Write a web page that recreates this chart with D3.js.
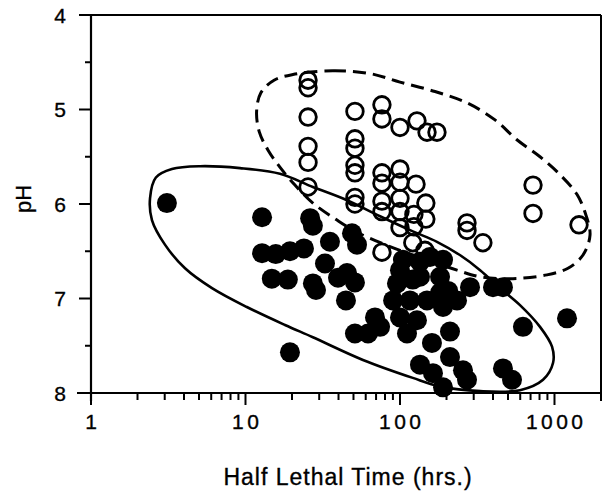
<!DOCTYPE html>
<html>
<head>
<meta charset="utf-8">
<script src="https://cdn.jsdelivr.net/npm/d3@7/dist/d3.min.js"></script>
<style>
  html, body { margin: 0; padding: 0; background: #fff; }
  svg { display: block; }
  text { font-family: "Liberation Sans", Arial, sans-serif; fill: #000; stroke: #000; stroke-width: 0.35; }
</style>
</head>
<body>
<div id="chart"></div>
<script>
// ---- Data ----
// Filled circles: half lethal time (hrs) and pH
const filledHours = [3.1, 12.8, 12.8, 15.7, 19.4, 23.9, 14.8, 18.8, 26.2, 27.3,
  27.3, 28.6, 19.4, 35.2, 32.7, 48.9, 52.7, 39.7, 51.1, 45.4,
  44.7, 51.1, 62.1, 68.9, 74.3, 104.5, 156.3, 189.9, 95.6, 90.2,
  134.7, 181.6, 149.6, 100, 111, 128.8, 189.9, 233.9, 283.9, 400,
  464, 161, 210.7, 210.7, 134.7, 163.5, 189.9, 255.7, 271.5, 464,
  531, 625, 1205, 181.6, 116, 121, 100, 134.7, 205];
const filledPH = [5.99, 6.14, 6.52, 6.53, 6.50, 6.47, 6.79, 6.80, 6.15, 6.23,
  6.84, 6.91, 7.57, 6.40, 6.63, 6.31, 6.43, 6.78, 6.83, 6.73,
  7.02, 7.37, 7.37, 7.20, 7.30, 6.59, 6.56, 6.59, 6.84, 7.02,
  6.77, 6.77, 7.02, 7.20, 7.37, 7.23, 7.09, 7.02, 6.88, 6.88,
  6.88, 7.47, 7.35, 7.62, 7.70, 7.79, 7.94, 7.76, 7.86, 7.74,
  7.86, 7.30, 7.21, 6.94, 7.02, 6.80, 6.70, 6.61, 6.92];

// Open circles: half lethal time (hrs) and pH
const openHours = [25.4, 25.4, 25.4, 25.4, 25.4, 25.4, 51.1, 51.1, 51.1, 51.1,
  51.1, 51.1, 51.1, 76.4, 76.4, 100, 128.8, 149.6, 173.5, 76.4,
  76.4, 76.4, 76.4, 100, 100, 100, 100, 100, 127, 147,
  147, 123, 123, 271.5, 271.5, 344, 726, 726, 1441, 76.4,
  121, 145];
const openPH = [4.69, 4.77, 5.08, 5.39, 5.56, 5.82, 5.02, 5.31, 5.41, 5.59,
  5.67, 5.93, 6.00, 4.95, 5.10, 5.19, 5.12, 5.24, 5.24, 5.67,
  5.78, 5.97, 6.08, 5.63, 5.77, 5.94, 6.08, 6.25, 5.79, 5.99,
  6.16, 6.11, 6.24, 6.20, 6.28, 6.41, 5.80, 6.10, 6.22, 6.51,
  6.41, 6.49];

// Hand-drawn envelope around the filled group (solid)
const solidHours = [2.41, 2.63, 3.34, 5.08, 9.21, 16.7, 27.3, 45.4, 74.3, 121,
  173.5, 244, 330, 444, 598, 806, 964, 979, 843, 598,
  330, 181.6, 121, 57.6, 27.3, 18.0, 10.2, 6.07, 4.06, 3.01, 2.48];
const solidPH = [5.94, 5.72, 5.63, 5.60, 5.62, 5.68, 5.82, 5.96, 6.13, 6.29,
  6.40, 6.54, 6.70, 6.89, 7.07, 7.30, 7.51, 7.68, 7.86, 7.97,
  7.98, 7.93, 7.84, 7.65, 7.41, 7.28, 7.09, 6.89, 6.68, 6.43, 6.17];

// Hand-drawn envelope around the open group (dashed)
const dashedHours = [20.3, 36.8, 63.9, 100, 168.5, 271.5, 412, 571, 806, 1086,
  1400, 1600, 1698, 1529, 1223, 894, 539, 330, 234, 121,
  80, 52.7, 39.1, 27.3, 20.9, 16.7, 14.0, 12.3, 11.8, 12.6, 15.3];
const dashedPH = [4.63, 4.59, 4.62, 4.71, 4.81, 4.93, 5.11, 5.32, 5.50, 5.69,
  5.90, 6.12, 6.33, 6.54, 6.68, 6.75, 6.79, 6.77, 6.70, 6.54,
  6.43, 6.30, 6.17, 5.99, 5.80, 5.61, 5.43, 5.24, 5.02, 4.82, 4.69];

const xMajorTicks = [1, 10, 100, 1000];
const xTickLabels = ["1", "10", "100", "1000"];
const yMajorTicks = [4, 5, 6, 7, 8];
const yMinorTicks = [4.5, 5.5, 6.5, 7.5];
const xLabel = "Half Lethal Time (hrs.)";
const yLabel = "pH";

// ---- Layout ----
const W = 604, H = 493;
const pLeft = 91, pRight = 601, pTop = 15, pBottom = 393;

const svg = d3.select("#chart").append("svg")
  .attr("width", W).attr("height", H);

const x = d3.scaleLog().domain([1, 2000]).range([pLeft, pRight]);
const y = d3.scaleLinear().domain([4, 8]).range([pTop, pBottom]);

// Frame: top and right lines
svg.append("line").attr("x1", 80).attr("x2", pRight).attr("y1", pTop).attr("y2", pTop)
  .attr("stroke", "#000").attr("stroke-width", 2);
svg.append("line").attr("x1", pRight).attr("x2", pRight).attr("y1", pTop).attr("y2", 401)
  .attr("stroke", "#000").attr("stroke-width", 2);

// Y axis
const yAxis = svg.append("g").attr("transform", `translate(${pLeft},0)`);
yAxis.append("line").attr("x1", 0).attr("x2", 0).attr("y1", pTop).attr("y2", pBottom + 8)
  .attr("stroke", "#000").attr("stroke-width", 2.2);
yAxis.selectAll(".ymaj").data(yMajorTicks).join("line")
  .attr("x1", -12).attr("x2", 0).attr("y1", d => y(d)).attr("y2", d => y(d))
  .attr("stroke", "#000").attr("stroke-width", 2);
yAxis.selectAll(".ymin").data(yMinorTicks).join("line")
  .attr("x1", -6).attr("x2", 0).attr("y1", d => y(d)).attr("y2", d => y(d))
  .attr("stroke", "#000").attr("stroke-width", 2);
yAxis.selectAll("text").data(yMajorTicks).join("text")
  .attr("x", -25).attr("y", d => y(d)).attr("dy", "0.36em")
  .attr("text-anchor", "end").attr("font-size", 21)
  .text(d => d);

// X axis
const xAxis = svg.append("g").attr("transform", `translate(0,${pBottom})`);
xAxis.append("line").attr("x1", 77).attr("x2", pRight).attr("y1", 0).attr("y2", 0)
  .attr("stroke", "#000").attr("stroke-width", 2.2);
const xMinor = x.ticks().filter(v => !xMajorTicks.includes(v) && v <= 2000);
xAxis.selectAll(".xmin").data(xMinor).join("line")
  .attr("x1", d => x(d)).attr("x2", d => x(d)).attr("y1", 0).attr("y2", 7)
  .attr("stroke", "#000").attr("stroke-width", 2);
xAxis.selectAll(".xmaj").data(xMajorTicks).join("line")
  .attr("x1", d => x(d)).attr("x2", d => x(d)).attr("y1", 0).attr("y2", 12)
  .attr("stroke", "#000").attr("stroke-width", 2);
xAxis.selectAll("text").data(xMajorTicks).join("text")
  .attr("x", d => x(d)).attr("dx", 1.7).attr("y", 36)
  .attr("text-anchor", "middle").attr("font-size", 21)
  .attr("letter-spacing", 3.4)
  .text((d, i) => xTickLabels[i]);

// Axis titles
svg.append("text").attr("x", 348).attr("y", 485)
  .attr("text-anchor", "middle").attr("font-size", 23)
  .attr("letter-spacing", 1.0)
  .text(xLabel);
svg.append("text")
  .attr("transform", `translate(31,199) rotate(-90)`)
  .attr("text-anchor", "middle").attr("font-size", 22)
  .text(yLabel);

// Points
const openData = openHours.map((h, i) => [h, openPH[i]]);
const filledData = filledHours.map((h, i) => [h, filledPH[i]]);

svg.append("g").selectAll("circle").data(openData).join("circle")
  .attr("cx", d => x(d[0])).attr("cy", d => y(d[1])).attr("r", 8.3)
  .attr("fill", "none").attr("stroke", "#000").attr("stroke-width", 2.8);

svg.append("g").selectAll("circle").data(filledData).join("circle")
  .attr("cx", d => x(d[0])).attr("cy", d => y(d[1])).attr("r", 10)
  .attr("fill", "#000");

// Envelopes
const line = d3.line().x(d => x(d[0])).y(d => y(d[1])).curve(d3.curveCatmullRomClosed);
const solidData = solidHours.map((h, i) => [h, solidPH[i]]);
const dashedData = dashedHours.map((h, i) => [h, dashedPH[i]]);

svg.append("path").attr("d", line(solidData))
  .attr("fill", "none").attr("stroke", "#000").attr("stroke-width", 2.6);
svg.append("path").attr("d", line(dashedData))
  .attr("fill", "none").attr("stroke", "#000").attr("stroke-width", 3)
  .attr("stroke-dasharray", "13,7");
</script>
</body>
</html>
